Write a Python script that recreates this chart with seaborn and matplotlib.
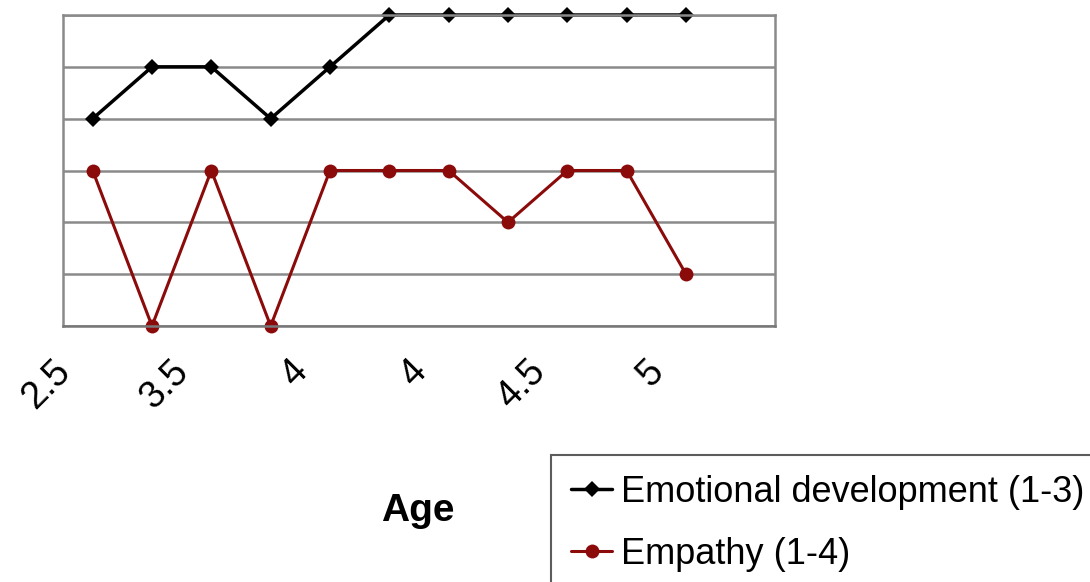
import numpy as np
import pandas as pd
import matplotlib
matplotlib.use("Agg")
import matplotlib.pyplot as plt
import matplotlib.transforms as mtransforms
import seaborn as sns

# category slots on the x axis (12 slots, last one empty)
n_slots = 12
age_label_pos = [0, 2, 4, 6, 8, 10]
age_labels = ["2.5", "3.5", "4", "4", "4.5", "5"]

# values (gridline index, 0 = bottom)
emotional = [4, 5, 5, 4, 5, 6, 6, 6, 6, 6, 6]
empathy = [3, 0, 3, 0, 3, 3, 3, 2, 3, 3, 1]

df = pd.DataFrame({
    "slot": list(range(len(emotional))) + list(range(len(empathy))),
    "value": emotional + empathy,
    "series": ["Emotional development (1-3)"] * len(emotional) + ["Empathy (1-4)"] * len(empathy),
})

sns.set_style("white")
plt.rcParams["font.family"] = ["Liberation Sans", "DejaVu Sans"]
plt.rcParams["text.color"] = "black"
plt.rcParams["xtick.color"] = "black"

fig = plt.figure(figsize=(10.9, 5.82), dpi=100)
ax = fig.add_axes([63 / 1090, 1 - 326 / 582, (775 - 63) / 1090, (326 - 15) / 582])

sns.lineplot(data=df, x="slot", y="value", hue="series", style="series",
             palette=["#000000", "#8b0a0a"], markers=["D", "o"], dashes=False,
             linewidth=2.5, markersize=8, markeredgewidth=0, ax=ax)
for line in ax.get_lines():
    line.set_clip_on(False)
    if line.get_marker() == "o":
        line.set_markersize(10)
        line.set_linewidth(2.2)

ax.set_xlim(-0.5, n_slots - 0.5)
ax.set_ylim(0, 6)
ax.set_yticks(range(0, 7))
ax.set_yticklabels([])
ax.tick_params(axis="y", length=0)
ax.yaxis.grid(True, color="#8a8a8a", linewidth=1.8)
ax.set_axisbelow(True)

# tick marks between categories, labels in the categories
ax.set_xticks(np.arange(-0.5, n_slots, 1.0))
ax.set_xticklabels([])
ax.tick_params(axis="x", which="major", length=10, width=1.5, color="#777777", direction="out")
ax.set_xticks(age_label_pos, minor=True)
ax.set_xticklabels(age_labels, minor=True, rotation=45, ha="right", va="top",
                   fontsize=27, color="black")
ax.tick_params(axis="x", which="minor", length=0, pad=20, bottom=True)
offset = mtransforms.ScaledTranslation(-15 / 100, 0, fig.dpi_scale_trans)
for lab in ax.get_xticklabels(minor=True):
    lab.set_transform(lab.get_transform() + offset)

for side in ["left", "right", "top", "bottom"]:
    ax.spines[side].set_visible(True)
    ax.spines[side].set_color("#8a8a8a")
    ax.spines[side].set_linewidth(1.8)
ax.spines["bottom"].set_color("#777777")

ax.set_ylabel("")
ax.set_xlabel("")
fig.text(418 / 1090, 1 - 511 / 582, "Age", ha="center", va="center",
         fontsize=28, fontweight="bold", color="black")

handles, labels = ax.get_legend_handles_labels()
if ax.legend_:
    ax.legend_.remove()
leg = fig.legend(handles, labels, loc="upper left",
                 bbox_to_anchor=(551 / 1090, 1 - 455 / 582),
                 fontsize=26, frameon=True, fancybox=False, shadow=False,
                 handlelength=1.15, handletextpad=0.25, borderpad=0.55,
                 labelspacing=0.75, borderaxespad=0)
leg.get_frame().set_edgecolor("#333333")
leg.get_frame().set_linewidth(1.5)
for t in leg.get_texts():
    t.set_color("black")

fig.savefig("out.png", dpi=100)
